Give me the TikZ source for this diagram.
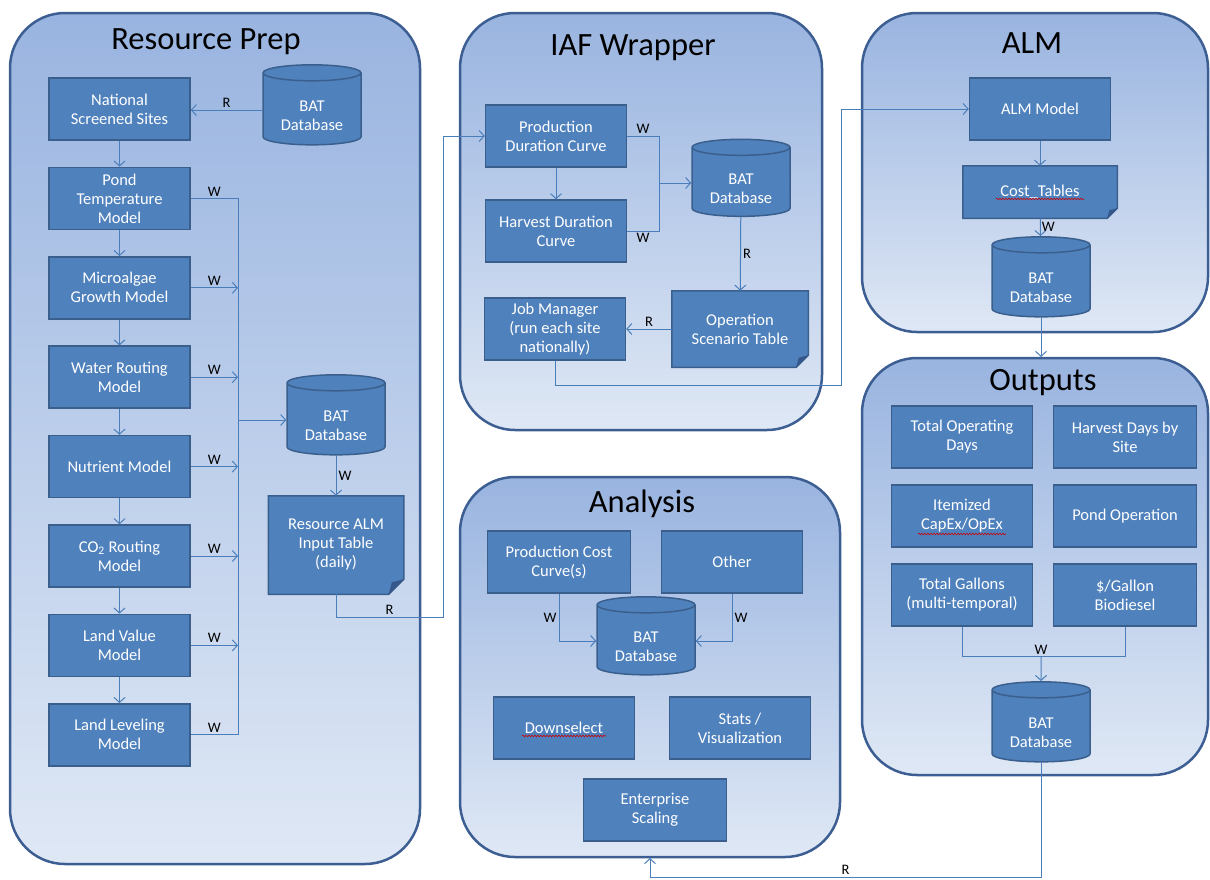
\documentclass[tikz,border=0pt]{standalone}
\usepackage{fontspec}
\setmainfont{Carlito}
\usetikzlibrary{shapes.geometric, arrows.meta, positioning, decorations.pathmorphing}

\definecolor{boxfill}{HTML}{4F81BD}
\definecolor{boxline}{HTML}{3A5F8D}
\definecolor{panline}{HTML}{3C5E92}
\definecolor{pantop}{HTML}{99B4E0}
\definecolor{panbot}{HTML}{DFE8F5}
\definecolor{wirec}{HTML}{4A7EBB}
\definecolor{foldc}{HTML}{36578A}

\pgfdeclarelayer{panels}
\pgfdeclarelayer{shapes}
\pgfsetlayers{panels,shapes,main}

\tikzset{
    panel/.style={rounded corners=55pt, draw=panline, line width=2.5pt,
        top color=pantop, bottom color=panbot},
    proc/.style={rectangle, draw=boxline, line width=1.5pt, fill=boxfill,
        text=white, align=center, minimum width=141pt, minimum height=62pt,
        inner sep=1pt, font=\fontsize{16.5}{19}\selectfont},
    dbtext/.style={text=white, align=center, yshift=-6pt,
        font=\fontsize{16.5}{19}\selectfont},
    db/.style={cylinder, shape border rotate=90, shape aspect=0.25,
        draw=boxline, line width=1.5pt, fill=boxfill,
        minimum width=98pt, minimum height=80pt, inner sep=1pt,
        text width=62pt, text height=13pt, text depth=22pt,
        label={[dbtext]center:{BAT\\Database}}},
    doc/.style={proc, draw=none, fill=none},
    title/.style={anchor=base, font=\fontsize{32.5}{38}\selectfont},
    wire/.style={draw=wirec, line width=1pt},
    flow/.style={wire, -{Straight Barb[length=5pt, width=11pt]}},
    rw/.style={text=black, inner sep=2pt, font=\fontsize{14.5}{16}\selectfont},
    typo/.style={draw=red!80!black, line width=0.6pt, decorate,
        decoration={snake, amplitude=0.8pt, segment length=3pt}},
}

\begin{document}
\begin{tikzpicture}[x=1pt, y=-1pt]
    \useasboundingbox (0,0) rectangle (1210,879);

    % Panels
    \begin{pgfonlayer}{panels}
        \fill[white] (0,0) rectangle (1210,879);
        \draw[panel] (10,13) rectangle (420,864);
        \draw[panel] (460,13) rectangle (822,430);
        \draw[panel] (862,13) rectangle (1208,332);
        \draw[panel] (862,358) rectangle (1208,775);
        \draw[panel] (460,477) rectangle (840,857);
    \end{pgfonlayer}
    \node[title] at (206,49) {Resource Prep};
    \node[title] at (633,55) {IAF Wrapper};
    \node[title] at (1032,53) {ALM};
    \node[title] at (1043,390) {Outputs};
    \node[title] at (642,512) {Analysis};

    % Resource Prep
    \node[db] (rdb) at (312,110) {};
    \foreach \n/\t [count=\i from 0] in {nss/{National\\Screened Sites},
        ptm/{Pond\\Temperature\\Model}, mgm/{Microalgae\\Growth Model},
        wrm/{Water Routing\\Model}, num/{Nutrient Model},
        crm/{CO\textsubscript{2} Routing\\Model}, lvm/{Land Value\\Model},
        llm/{Land Leveling\\Model}}
        \node[proc] (\n) at (119.5,{109+89.4*\i}) {\t};
    \node[db] (rdb2) at (336,420) {};
    \node[doc, minimum width=134pt, minimum height=97pt] (rtab) at (336,545)
        {Resource ALM\\Input Table\\(daily)};
    \coordinate (bus) at (238,0);
    \coordinate (rbus) at (443,617);

    % IAF Wrapper
    \node[proc] (pdc) at (556,136) {Production\\Duration Curve};
    \node[proc] (hdc) at (556,231) {Harvest Duration\\Curve};
    \node[db, minimum height=77pt] (idb) at (741,183) {};
    \node[doc, minimum width=135pt, minimum height=75pt] (ost) at (740,329)
        {Operation\\Scenario Table};
    \node[proc] (job) at (555,329) {Job Manager\\(run each site\\nationally)};
    \coordinate (ibus) at (659,183);
    \coordinate (jbus) at (841,385);

    % ALM
    \node[proc] (alm) at (1040,109) {ALM Model};
    \node[doc, minimum width=153pt, minimum height=51pt] (ctab) at (1040,192)
        {Cost\_Tables};
    \node[db] (adb) at (1041,282) {};
    \coordinate (otop) at (1041,357);

    % Outputs
    \node[proc] (tod) at (962,437) {Total Operating\\Days};
    \node[proc, minimum width=143pt] (hds) at (1125,437) {Harvest Days by\\Site};
    \node[proc] (ico) at (962,516) {Itemized\\CapEx/OpEx};
    \node[proc, minimum width=143pt] (pop) at (1125,516) {Pond Operation};
    \node[proc] (tga) at (962,595) {Total Gallons\\(multi-temporal)};
    \node[proc, minimum width=143pt] (dpg) at (1125,595) {\$/Gallon\\Biodiesel};
    \node[db] (odb) at (1041,727) {};
    \coordinate (obus) at (1041,656);

    % Analysis
    \node[proc, minimum width=143pt] (pcc) at (559,562) {Production Cost\\Curve(s)};
    \node[proc] (oth) at (732,562) {Other};
    \node[db, minimum height=78pt] (anb) at (646,641) {};
    \node[proc] (dsel) at (564,728) {Downselect};
    \node[proc] (stv) at (740,728) {Stats /\\Visualization};
    \node[proc, minimum width=143pt] (ens) at (655,810) {Enterprise\\Scaling};
    \coordinate (lbus) at (650,877);
    \coordinate (abot) at (650,858);

    % Table shapes with folded corner
    \begin{pgfonlayer}{shapes}
        \foreach \d/\f in {rtab/15pt, ost/12pt, ctab/10pt} {
            \filldraw[fill=boxfill, draw=boxline, line width=1.5pt]
                (\d.north west) -- (\d.north east) -- ([yshift=\f]\d.south east)
                -- ([xshift=-\f]\d.south east) -- (\d.south west) -- cycle;
            \fill[foldc] ([yshift=\f]\d.south east) -- ([xshift=-\f]\d.south east)
                -- ([xshift={-0.8*\f}, yshift={0.8*\f}]\d.south east) -- cycle;
        }
    \end{pgfonlayer}

    % Spelling marks
    \draw[typo] ([xshift=-44pt, yshift=-7pt]ctab.center) -- ++(88,0);
    \draw[typo] ([xshift=-42pt, yshift=-8pt]dsel.center) -- ++(84,0);
    \draw[typo] ([xshift=-44pt, yshift=-18pt]ico.center) -- ++(88,0);

    % Connectors: Resource Prep
    \foreach \a/\b in {nss/ptm, ptm/mgm, mgm/wrm, wrm/num, num/crm, crm/lvm, lvm/llm}
        \draw[flow] (\a) -- (\b);
    \draw[flow] (rdb.west) -- (rdb.west -| nss.east) node[rw, midway, above] {R};
    \draw[wire] (ptm) -- (ptm -| bus) -- (llm -| bus) -- (llm);
    \foreach \m in {ptm, llm}
        \path (\m) -- (\m -| bus) node[rw, midway, above] {W};
    \foreach \m in {mgm, wrm, num, crm, lvm}
        \draw[flow] (\m) -- (\m -| bus) node[rw, midway, above] {W};
    \draw[flow] (rdb2 -| bus) -- (rdb2);
    \draw[flow] (rdb2) -- (rtab) node[rw, midway, right] {W};
    \draw[flow] (rtab.south) -- (rtab.south |- rbus) -- node[rw, above] {R} (rbus)
        -- (rbus |- pdc) -- (pdc);

    % Connectors: IAF Wrapper
    \draw[flow] (pdc) -- (hdc);
    \draw[wire] (pdc) -- (pdc -| ibus) node[rw, midway, above] {W}
        -- (hdc -| ibus) -- (hdc) node[rw, midway, below] {W};
    \draw[flow] (ibus) -- (idb);
    \draw[flow] (idb) -- (ost) node[rw, midway, right] {R};
    \draw[flow] (ost) -- (job) node[rw, midway, above] {R};
    \draw[flow] (job.south) -- (job.south |- jbus) -- (jbus) -- (jbus |- alm) -- (alm);

    % Connectors: ALM and Outputs
    \draw[flow] (alm) -- (ctab);
    \draw[flow] (ctab) -- (adb) node[rw, midway, right, inner sep=1pt] {W};
    \draw[flow] (adb) -- (otop);
    \draw[wire] (tga) -- (tga |- obus) -- (dpg |- obus) -- (dpg);
    \draw[flow] (obus) -- (odb) node[rw, pos=0, above, inner sep=1pt] {W};
    \draw[flow] (odb) -- (odb |- lbus) -- node[rw, above] {R} (lbus) -- (abot);

    % Connectors: Analysis
    \draw[flow] (pcc.south) -- node[rw, left] {W} (pcc.south |- anb) -- (anb);
    \draw[flow] (oth.south) -- node[rw, right] {W} (oth.south |- anb) -- (anb);
\end{tikzpicture}
\end{document}
